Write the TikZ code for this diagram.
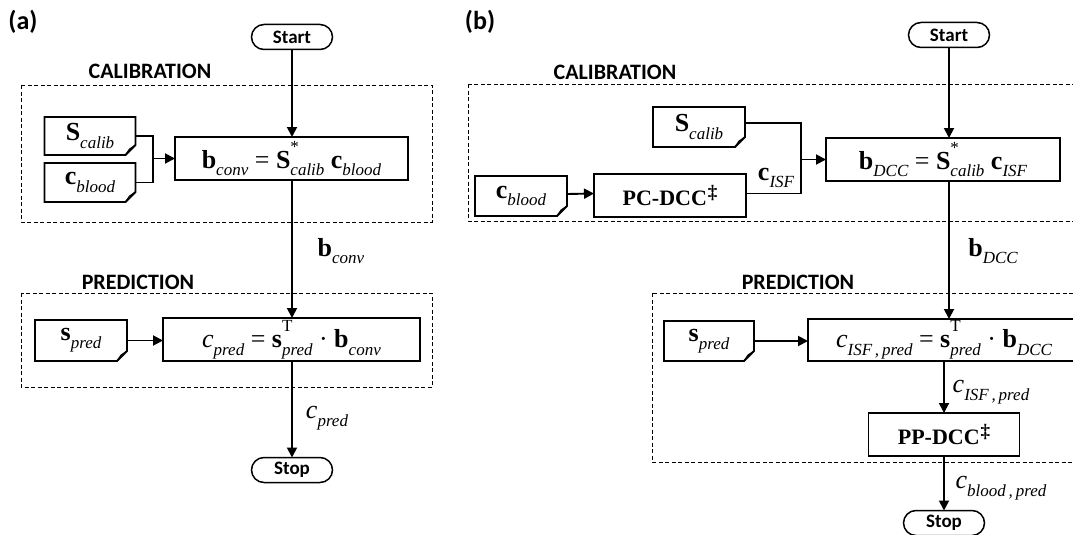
\documentclass[tikz,border=0pt]{standalone}
\usepackage{fontspec}
\setmainfont{Liberation Serif}
\newfontfamily\labelfont{Carlito}
\usetikzlibrary{arrows.meta}

% sizes of formula parts
\newcommand{\mainsz}{\fontsize{26}{30}\selectfont}
\newcommand{\subsz}{\fontsize{17}{17}\selectfont}
% italic subscript, and superscript stacked over an italic subscript
\newcommand{\lowtxt}[1]{\raisebox{-0.3em}{\subsz\itshape #1}}
\newcommand{\hilotxt}[2]{\makebox[0pt][l]{\raisebox{0.62em}{\subsz #1}}\raisebox{-0.3em}{\subsz\itshape #2}}
\newcommand{\vb}[1]{\textbf{#1}}
\newcommand{\dagsup}{\kern1pt\raisebox{0.3em}{\fontsize{19}{19}\selectfont\bfseries\textdaggerdbl}}

% document symbol with a folded lower right corner
\newcommand{\docshape}[1]{%
  \draw[line width=1.8pt, line join=miter]
    (#1.north west) -- (#1.north east) -- ([yshift=10pt]#1.south east)
    -- ([xshift=-10pt]#1.south east) -- (#1.south west) -- cycle;
  \draw[line width=1pt, line join=round]
    ([yshift=10pt]#1.south east) -- ([xshift=-6pt,yshift=6pt]#1.south east)
    .. controls ([xshift=-8pt,yshift=3pt]#1.south east) .. ([xshift=-10pt]#1.south east);}

\tikzset{
  every node/.style={inner sep=0pt, outer sep=0pt},
  proc/.style={draw, line width=1.8pt, font=\mainsz},
  docnode/.style={minimum width=91pt, minimum height=40pt, font=\mainsz},
  term/.style={draw, line width=1.5pt, rounded corners=12.5pt,
    minimum width=81pt, minimum height=25pt,
    font=\labelfont\bfseries\fontsize{19}{22}\selectfont},
  grouptitle/.style={font=\labelfont\bfseries\fontsize{22}{26}\selectfont},
  panel/.style={font=\labelfont\bfseries\fontsize{26}{30}\selectfont},
  frame/.style={draw, line width=0.9pt, dash pattern=on 4pt off 2.5pt},
  flow/.style={line width=1.9pt, -{Triangle[length=10pt,width=10pt]}},
  link/.style={line width=1.9pt},
  lbl/.style={font=\mainsz},
}

\begin{document}
\begin{tikzpicture}[x=1pt, y=-1pt]
\useasboundingbox (0,0) rectangle (1073,535);
\clip (0,0) rectangle (1073,535);
\fill[white] (0,0) rectangle (1073,535);

% ---------------- panel (a) ----------------
\node[panel] (pa) at (23,22) {(a)};
\draw[frame] (21,85) rectangle (432,222);
\draw[frame] (21,293) rectangle (432,387);
\node[grouptitle] (calibA) at (150,71) {CALIBRATION};
\node[grouptitle] (predtA) at (138,282) {PREDICTION};

\node[term] (startA) at (292,37) {Start};
\node[term] (stopA) at (292,470) {Stop};

\node[docnode, minimum height=38pt] (scalA) at (90,136) {\vb{S}\lowtxt{calib}\hspace{10pt}};
\node[docnode, minimum height=39pt] (cbloodA) at (90,182.5) {\vb{c}\lowtxt{blood}\hspace{10pt}};
\node[docnode, minimum width=92pt, minimum height=41pt] (spredA) at (81,340.5) {\vb{s}\lowtxt{pred}\hspace{10pt}};
\docshape{scalA}
\docshape{cbloodA}
\docshape{spredA}

\node[proc, minimum width=233pt, minimum height=43pt] (convA) at (291.5,158.5)
  {\vb{b}\lowtxt{conv} = \vb{S}\hilotxt{*}{calib} \vb{c}\lowtxt{blood}};
\node[proc, minimum width=257pt, minimum height=43pt] (predA) at (291.5,339.5)
  {\textit{c}\lowtxt{pred} = \vb{s}\hilotxt{T}{pred} · \vb{b}\lowtxt{conv}};

\path (convA.west) ++(-22,0) coordinate (jA);
\draw[link] (scalA.east) -| (jA);
\draw[link] (cbloodA.east) -| (jA);
\draw[flow] (jA) -- (convA.west);
\draw[flow] (startA.south) -- (startA.south |- convA.north);
\draw[flow] (startA.south |- convA.south) -- (startA.south |- predA.north);
\draw[flow] (spredA.east) -- (spredA.east -| predA.west);
\draw[flow] (stopA.north |- predA.south) -- (stopA.north);
\node[lbl] (bconvlbl) at (341,251) {\vb{b}\lowtxt{conv}};
\node[lbl] (cpredlbl) at (327,418) {\textit{c}\lowtxt{pred}};

% ---------------- panel (b) ----------------
\node[panel] (pb) at (480,22) {(b)};
\draw[frame] (468,84) rectangle (1090,221);
\draw[frame] (652,293) rectangle (1090,462);
\node[grouptitle] (calibB) at (615,72) {CALIBRATION};
\node[grouptitle] (predtB) at (798,282) {PREDICTION};

\node[term] (startB) at (949,35) {Start};
\node[term] (stopB) at (944,523) {Stop};

\node[docnode, minimum width=92pt] (scalB) at (699,127) {\vb{S}\lowtxt{calib}\hspace{10pt}};
\node[docnode, minimum width=92pt] (cbloodB) at (521,196) {\vb{c}\lowtxt{blood}\hspace{10pt}};
\node[docnode, minimum width=90pt] (spredB) at (709,341) {\vb{s}\lowtxt{pred}\hspace{10pt}};
\docshape{scalB}
\docshape{cbloodB}
\docshape{spredB}

\node[proc, minimum width=152pt, minimum height=43pt, font=\fontsize{22}{26}\selectfont] (pcdcc) at (670,195.5)
  {\textbf{PC-DCC}\dagsup};
\node[proc, minimum width=234pt, minimum height=43pt] (convB) at (943,159.5)
  {\vb{b}\lowtxt{DCC} = \vb{S}\hilotxt{*}{calib} \vb{c}\lowtxt{ISF}};
\node[proc, minimum width=272pt, minimum height=42pt] (predB) at (944,340)
  {\textit{c}\lowtxt{ISF\,,\,pred} = \vb{s}\hilotxt{T}{pred} · \vb{b}\lowtxt{DCC}};
\node[proc, minimum width=151pt, minimum height=43pt, font=\fontsize{22}{26}\selectfont] (ppdcc) at (944,434.5)
  {\textbf{PP-DCC}\dagsup};

\path (convB.west) ++(-25,0) coordinate (jB);
\draw[link] ([yshift=4pt]scalB.east) -| (jB);
\draw[link] ([yshift=2pt]pcdcc.east) -| (jB);
\draw[flow] (jB) -- (convB.west);
\draw[flow] ([yshift=2pt]cbloodB.east) -- ([yshift=2pt]pcdcc.west);
\draw[flow] (startB.south) -- (startB.south |- convB.north);
\draw[flow] (startB.south |- convB.south) -- (startB.south |- predB.north);
\draw[flow] (spredB.east) -- (spredB.east -| predB.west);
\draw[flow] (ppdcc.north |- predB.south) -- (ppdcc.north);
\draw[flow] (ppdcc.south) -- (stopB.north);

\node[lbl] (cisflbl) at (776,178) {\vb{c}\lowtxt{ISF}};
\node[lbl] (bdcclbl) at (993,251) {\vb{b}\lowtxt{DCC}};
\node[lbl] (cisfpredlbl) at (991,392) {\textit{c}\lowtxt{ISF\,,\,pred}};
\node[lbl] (cbloodpredlbl) at (1001,488) {\textit{c}\lowtxt{blood\,,\,pred}};
\end{tikzpicture}
\end{document}
